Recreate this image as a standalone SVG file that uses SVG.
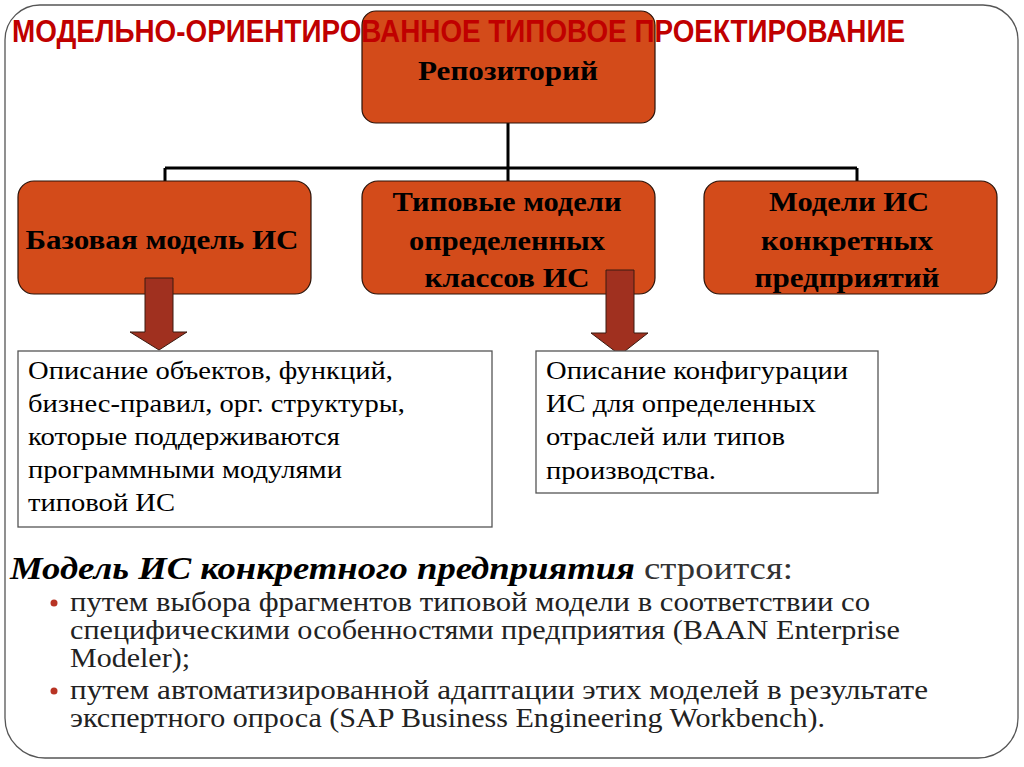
<svg xmlns="http://www.w3.org/2000/svg" width="1024" height="767" viewBox="0 0 1024 767">
<style>
.box{fill:#D34B1A;stroke:#2a1208;stroke-width:1.2}
.bt{font-family:"Liberation Serif",serif;font-weight:bold;font-size:27px;fill:#000;text-anchor:middle}
.tb{fill:#fff;stroke:#555;stroke-width:1.3}
.tt{font-family:"Liberation Serif",serif;font-size:25px;fill:#000}
.conn{stroke:#000;stroke-width:3;fill:none}
.arr{fill:#A0301F;stroke:#3a1a10;stroke-width:1}
.bl{font-family:"Liberation Serif",serif;font-size:28px;fill:#222}
.dot{fill:#B83424}
</style>
<rect width="1024" height="767" fill="#fff"/>
<path d="M41,5 H983 A35,35 0 0 1 1018,40 V718 A40,40 0 0 1 978,758 H45 A40,40 0 0 1 5,718 V40 A35,35 0 0 1 41,5 Z" fill="#fff" stroke="#555" stroke-width="1.3"/>
<g id="connectors">
<path class="conn" d="M508,123 V168 M165,168 H857 M165,168 V181 M508,168 V181 M857,168 V181"/>
</g>
<g id="repository">
<rect class="box" x="362" y="11" width="293" height="112" rx="14"/>
<text class="bt" x="508" y="80" font-size="29" textLength="180" lengthAdjust="spacingAndGlyphs">Репозиторий</text>
</g>
<g id="base-model">
<rect class="box" x="18" y="181" width="293" height="113" rx="16"/>
<text class="bt" x="162" y="249" textLength="273" lengthAdjust="spacingAndGlyphs">Базовая модель ИС</text>
</g>
<g id="typical-models">
<rect class="box" x="362" y="181" width="293" height="113" rx="16"/>
<text class="bt" x="507" y="211" textLength="229" lengthAdjust="spacingAndGlyphs">Типовые модели</text>
<text class="bt" x="507" y="250" textLength="196" lengthAdjust="spacingAndGlyphs">определенных</text>
<text class="bt" x="507" y="287" textLength="165" lengthAdjust="spacingAndGlyphs">классов ИС</text>
</g>
<g id="enterprise-models">
<rect class="box" x="704" y="181" width="293" height="113" rx="16"/>
<text class="bt" x="849" y="211" textLength="160" lengthAdjust="spacingAndGlyphs">Модели ИС</text>
<text class="bt" x="847" y="250" textLength="172" lengthAdjust="spacingAndGlyphs">конкретных</text>
<text class="bt" x="847" y="287" textLength="185" lengthAdjust="spacingAndGlyphs">предприятий</text>
</g>
<g id="arrow-left">
<path class="arr" d="M145,278 H173 V332 H187 L159,350 L130,332 H145 Z"/>
</g>
<g id="arrow-right">
<path class="arr" d="M606,270 H634 V333 H648 L620,355 L591,333 H606 Z"/>
</g>
<g id="desc-left">
<rect class="tb" x="18" y="351" width="474" height="176"/>
<text class="tt" x="28" y="379" textLength="365" lengthAdjust="spacingAndGlyphs">Описание объектов, функций,</text>
<text class="tt" x="28" y="412" textLength="377" lengthAdjust="spacingAndGlyphs">бизнес-правил, орг. структуры,</text>
<text class="tt" x="28" y="445" textLength="312" lengthAdjust="spacingAndGlyphs">которые поддерживаются</text>
<text class="tt" x="28" y="478" textLength="314" lengthAdjust="spacingAndGlyphs">программными модулями</text>
<text class="tt" x="28" y="511" textLength="147" lengthAdjust="spacingAndGlyphs">типовой ИС</text>
</g>
<g id="desc-right">
<rect class="tb" x="536" y="351" width="342" height="142"/>
<text class="tt" x="546" y="379" textLength="302" lengthAdjust="spacingAndGlyphs">Описание конфигурации</text>
<text class="tt" x="546" y="412" textLength="270" lengthAdjust="spacingAndGlyphs">ИС для определенных</text>
<text class="tt" x="546" y="445" textLength="239" lengthAdjust="spacingAndGlyphs">отраслей или типов</text>
<text class="tt" x="546" y="479" textLength="170" lengthAdjust="spacingAndGlyphs">производства.</text>
</g>
<text x="12" y="42" font-family="Liberation Sans,sans-serif" font-weight="bold" font-size="32" fill="#C00000" textLength="893" lengthAdjust="spacingAndGlyphs">МОДЕЛЬНО-ОРИЕНТИРОВАННОЕ ТИПОВОЕ ПРОЕКТИРОВАНИЕ</text>
<text x="10" y="579" font-family="Liberation Serif,serif" font-size="31" fill="#000"><tspan font-weight="bold" font-style="italic" textLength="625" lengthAdjust="spacingAndGlyphs">Модель ИС конкретного предприятия</tspan><tspan fill="#333" x="644" textLength="149" lengthAdjust="spacingAndGlyphs">строится:</tspan></text>
<circle class="dot" cx="54" cy="603" r="3.5"/>
<text class="bl" x="70" y="611" textLength="800" lengthAdjust="spacingAndGlyphs">путем выбора фрагментов типовой модели в соответствии со</text>
<text class="bl" x="70" y="639" textLength="830" lengthAdjust="spacingAndGlyphs">специфическими особенностями предприятия (BAAN Enterprise</text>
<text class="bl" x="70" y="667" textLength="120" lengthAdjust="spacingAndGlyphs">Modeler);</text>
<circle class="dot" cx="54" cy="691" r="3.5"/>
<text class="bl" x="70" y="699" textLength="858" lengthAdjust="spacingAndGlyphs">путем автоматизированной адаптации этих моделей в результате</text>
<text class="bl" x="70" y="727" textLength="755" lengthAdjust="spacingAndGlyphs">экспертного опроса (SAP Business Engineering Workbench).</text>
</svg>
